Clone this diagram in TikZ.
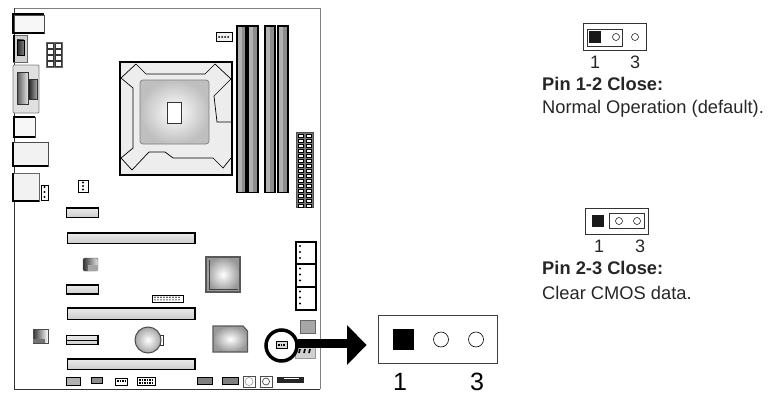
\documentclass[tikz,border=0pt]{standalone}
\usepackage{fontspec}
\setmainfont{Liberation Sans}
\tikzset{
  port/.style={fill=white, draw=black!70, line width=0.6},
  slot/.style={draw=black, line width=1.6, top color=black!8, bottom color=black!20},
  dimm/.style={draw=black, line width=1.6, fill=black!45},
  chip/.style={draw=black!65, line width=1.2, inner color=white, outer color=black!40},
  header/.style={draw=black, line width=0.7, fill=white},
  pin/.style={draw=black, line width=0.5, fill=white},
  pinlabel/.style={inner sep=0, font=\fontsize{18}{18}\selectfont, text=black!85},
  biglabel/.style={inner sep=0, font=\fontsize{25}{25}\selectfont},
  caption/.style={inner sep=0, anchor=west, font=\fontsize{18.3}{20}\selectfont, text=black!85}
}
\begin{document}
\begin{tikzpicture}[x=1pt, y=-1pt]
\useasboundingbox (0,0) rectangle (770,396);
% board
\draw [black!50, line width=1] (14,8.5) -- (320,8.5) -- (320,389);
\draw [black!80, line width=0.9] (14,8.5) -- (14,389) -- (320,389);
% back panel
\draw [port, fill=black!3] (14,15) rectangle (44,33);
\draw [black, line width=2] (44,14.5) -- (13,14.5) -- (13,33) -- (44,33);
\draw [draw=black!60, fill=black!18, line width=0.7] (13,35) rectangle (27,62);
\draw [black, line width=2] (13.5,35) -- (13.5,62);
\shade [left color=black!85, right color=black!50, draw=black] (17,40) rectangle (24,55);
\draw [draw=black!50, fill=black!12, line width=0.8, rounded corners=1] (13,65) rectangle (39,113);
\shade [left color=black!65, right color=black!10, draw=black!80] (17,72) rectangle (28,104);
\shade [left color=black!90, right color=black!35, draw=black!80] (28,79) rectangle (37,99);
\draw [port, fill=black!3] (14,117) rectangle (35,137);
\draw [black, line width=2] (35,117) -- (14,117) -- (14,137) -- (35,137);
\draw [port, fill=black!5] (13,142) rectangle (48,166);
\draw [black, line width=2] (13,142) -- (13,166) -- (48,166);
\draw [draw=black!60, line width=1, fill=black!5] (13,173) rectangle (39,201);
\draw [black, line width=2.4] (13,173) -- (13,201) -- (39,201);
% small headers
\draw [draw=black!60, fill=black!60] (46,42) rectangle (62,67);
\foreach \x in {47.5,55.5}
\foreach \y in {43.5,49.5,55.5,61.5}
{
\draw [fill=white, draw=black!80, line width=0.3] (\x,\y) rectangle +(5.5,4.5);
}
\draw [header] (41,185) rectangle (48,200);
\foreach \y in {187,192,197}
{
\fill (44.5,\y) circle [radius=1.2];
}
\draw [header] (78,180) rectangle (88,192);
\foreach \y in {182.5,186,189.5}
{
\fill (83,\y) circle [radius=1.2];
}
\draw [header, fill=black!5] (216,32) rectangle (232,41);
\foreach \x in {219,222,225,228}
{
\fill (\x,37) circle [radius=1];
}
% cpu socket
\draw [draw=black, line width=1.3, fill=black!7] (120,62) rectangle (232,175);
\draw [black, line width=0.7] (121,78) -- (136,64) -- (146,74) -- (205,74) -- (215,64) -- (231,79);
\draw [black, line width=0.7] (121,78) -- (133,88) -- (133,148) -- (121,158);
\draw [black, line width=0.7] (121,158) -- (132,170) -- (149,152) -- (165,152) -- (173,158) -- (213,158) -- (223,168) -- (231,158);
\draw [black, line width=0.7] (231,79) -- (214,96) -- (217,122) -- (231,122);
\draw [draw=black!50, line width=0.7, inner color=white, outer color=black!25, rounded corners=3] (140,80) rectangle (209,144);
\draw [draw=black!80, line width=0.9, fill=white] (167,102) rectangle (181,123);
% memory
\foreach \x/\w in {237/9,248/10,265/10,278/10}
{
\draw [dimm] (\x,26) rectangle (\x+\w,192.5);
\fill [black!30] (\x+0.7,27) rectangle (\x+\w/2,192);
}
% atx
\draw [draw=black!70, fill=black!55] (296,132) rectangle (313,207);
\foreach \y in {134,139,...,204}
{
\draw [fill=white, draw=black, line width=0.3] (298,\y) rectangle +(5,3.4);
\draw [fill=white, draw=black, line width=0.3] (306,\y) rectangle +(5,3.4);
}
% expansion slots
\draw [slot] (66.5,208) rectangle (98.5,217.5);
\draw [slot] (67.5,233) rectangle (195,243.5);
\draw [slot] (66.5,285) rectangle (98.5,294);
\draw [slot] (67.5,308) rectangle (195,319.5);
\draw [slot] (66.5,335.5) rectangle (98,344.5);
\draw [black, line width=1.8] (66,340.5) -- (98,340.5);
\draw [slot] (67.5,359) rectangle (195,369.5);
% small blocks
\shade [left color=black!80, right color=black!10, draw=black!70, rounded corners=1.5] (83,258) rectangle (98,271);
\fill [black!35] (88,265) rectangle (98,271);
\shade [left color=black!80, right color=white, draw=black!70] (33,329) rectangle (48,343);
\fill [black!55] (33,339) -- (45,339) -- (45,343) -- (33,343) -- cycle;
\draw [header] (152,295) rectangle (183,302);
\foreach \x in {155,158,...,181}
{
\fill [black!80] (\x,297.2) circle [radius=0.8];
\fill [black!80] (\x,299.8) circle [radius=0.8];
}
% battery
\draw [draw=black!80, line width=0.8, fill=white] (160,335) rectangle (163.5,345);
\draw [draw=black!70, line width=1, inner color=white, outer color=black!35] (148,340) circle [radius=13];
% chipset
\draw [chip] (206,257) rectangle (240,292);
\draw [black!75, line width=0.6] (209,260) -- (209,289) -- (238,289);
\draw [chip] (213,326) -- (243,326) -- (247.5,331) -- (247.5,352) -- (213,352) -- cycle;
% sata
\foreach \y in {242,264.5,287.5}
{
\draw [draw=black, line width=1.4, fill=white] (296,\y) rectangle (316,\y+22.5);
\draw [black, line width=1.8] (296,\y) -- (296,\y+22.5);
\foreach \d in {4,10,16}
{
\fill (300,\y+\d) circle [radius=1.2];
}
}
\draw [black, line width=2] (296,242) -- (316,242);
\draw [black, line width=2] (296,264) -- (316,264);
\draw [draw=black!60, fill=black!35, line width=0.6] (300,320) rectangle (315,333);
\draw [draw=black!40, fill=black!18, line width=0.6] (295,340) rectangle (315,358);
\foreach \x in {299,304,309}
{
\draw [black, line width=1.6] (\x,353) -- (\x+1,349);
}
% bottom row
\draw [header, fill=black!30, line width=0.9] (66,377) rectangle (80,385);
\draw [header, fill=black!45] (91,377) rectangle (102,383);
\draw [header] (115,378) rectangle (127,385);
\draw [black, line width=1.4, dash pattern=on 1.5 off 1] (117,381) -- (125,381);
\draw [header] (137,377) rectangle (155,385);
\draw [black, line width=1.4, dash pattern=on 1.5 off 1] (139,380) -- (153,380);
\draw [black, line width=1.4, dash pattern=on 1.5 off 1] (139,383) -- (153,383);
\draw [header, fill=black!50] (197,377) rectangle (212,384);
\draw [header, fill=black!50] (222,377) rectangle (238,384);
\draw [draw=black!70, line width=0.7] (243,376) rectangle (255,387);
\draw [black!40, line width=0.6] (249,381.5) circle [radius=4];
\draw [draw=black!70, line width=0.7] (260,376) rectangle (272,387);
\draw [black!70, line width=0.7] (266,381.5) circle [radius=3.5];
\fill [black!85] (277,376.5) rectangle (304,383);
\fill [white] (284,378) rectangle (299,379);
% jumper mark and arrow
\node (mark) [draw=black, line width=3.5, circle, minimum size=31, inner sep=0, fill=white] at (281.5,345.5) {};
\draw [header, fill=black!15] (276,341.5) rectangle (287,348.5);
\draw [black, line width=1.3, dash pattern=on 1.5 off 1] (278,345) -- (285,345);
\coordinate (shaft) at (347,343.5);
\draw [black, line width=8.5] (mark.east) ++(-1,-2) -- (shaft);
\fill (347,325) -- (366.5,345) -- (347,365) -- cycle;
% enlarged jumper
\draw [draw=black!75, line width=0.9] (378,315) rectangle (497,363.5);
\fill (393,329) rectangle (414,350);
\draw [pin, line width=0.6] (441,339.5) circle [radius=7.5];
\draw [pin, line width=0.6] (476,339.5) circle [radius=7.5];
\node (bigone) [biglabel] at (400,382) {1};
\node (bigthree) [biglabel] at (477,382) {3};
% pin 1-2
\draw [draw=black!80, line width=0.8] (583,23.5) rectangle (646,50);
\draw [draw=black!80, line width=0.8] (587,29) rectangle (622,46);
\fill [black!90] (589,31) rectangle (601,43);
\draw [pin] (616,37) circle [radius=3.5];
\draw [pin] (635,37) circle [radius=3.5];
\node (oneA) [pinlabel] at (595,62) {1};
\node (threeA) [pinlabel] at (635,62) {3};
\node (closeA) [caption] at (542,84) {\textbf{Pin 1-2 Close:}};
\node (infoA) [caption] at (542,109) {Normal Operation (default).};
% pin 2-3
\draw [draw=black!80, line width=0.8] (585,208) rectangle (648,234);
\draw [draw=black!80, line width=0.8] (609,213) rectangle (644,228);
\fill [black!90] (592,215) rectangle (604,227);
\draw [pin] (619,221) circle [radius=3.5];
\draw [pin] (637,221) circle [radius=3.5];
\node (oneB) [pinlabel] at (599,246) {1};
\node (threeB) [pinlabel] at (640,246) {3};
\node (closeB) [caption] at (542,268) {\textbf{Pin 2-3 Close:}};
\node (infoB) [caption] at (542,293) {Clear CMOS data.};
\end{tikzpicture}
\end{document}
